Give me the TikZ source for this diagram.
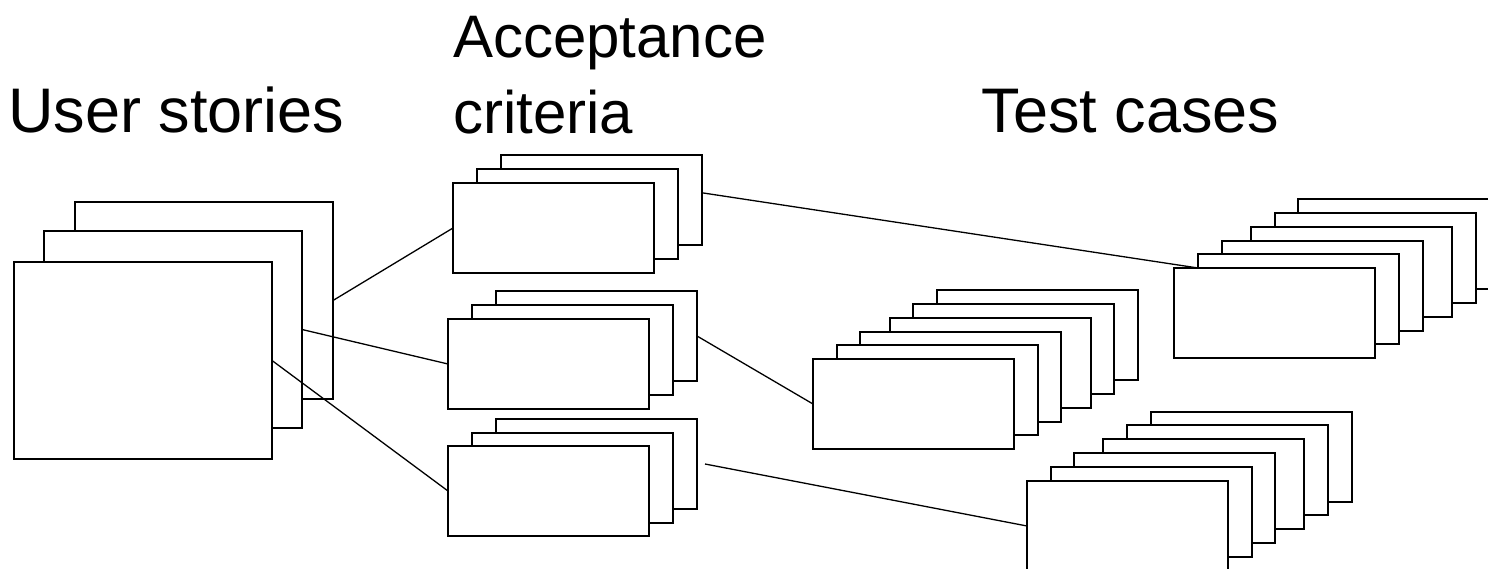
\documentclass[tikz,border=0pt]{standalone}
\usepackage{fontspec}
\setmainfont{Liberation Sans}
\usetikzlibrary{calc}
\begin{document}
\begin{tikzpicture}[x=1pt,y=-1pt,
  card/.style={draw, fill=white, line width=1.6pt, inner sep=0pt, outer sep=0pt, anchor=north west},
  bigcard/.style={card, minimum width=258pt, minimum height=197pt},
  smallcard/.style={card, minimum width=201pt, minimum height=90pt},
  link/.style={line width=1.3pt},
  title/.style={inner sep=0pt, anchor=base west, font=\fontsize{63}{76}\selectfont},
  subtitle/.style={title, font=\fontsize{60}{76}\selectfont}]
\useasboundingbox (0,0) rectangle (1488,569);
\clip (0,0) rectangle (1488,569);

% column headings
\node[title] (hus) at (8,133) {User stories};
\node[subtitle] (hac) at (453,58) {\begin{tabular}[t]{@{}l@{}}Acceptance\\criteria\end{tabular}};
\node[title] (htc) at (981.5,133) {Test cases};

% user stories stack (back to front)
\node[bigcard] (us3) at (75,202) {};
\node[bigcard] (us2) at (44,231) {};
\node[bigcard] (us1) at (14,262) {};

% acceptance criteria stacks
\node[smallcard] (ac1c) at (501,155) {};
\node[smallcard] (ac1b) at (477,169) {};
\node[smallcard] (ac1a) at (453,183) {};

\node[smallcard] (ac2c) at (496,291) {};
\node[smallcard] (ac2b) at (472,305) {};
\node[smallcard] (ac2a) at (448,319) {};

\node[smallcard] (ac3c) at (496,419) {};
\node[smallcard] (ac3b) at (472,433) {};
\node[smallcard] (ac3a) at (448,446) {};

% test case stacks
\node[smallcard] (tca6) at (937,290) {};
\node[smallcard] (tca5) at (913,304) {};
\node[smallcard] (tca4) at (890,318) {};
\node[smallcard] (tca3) at (860,332) {};
\node[smallcard] (tca2) at (837,345) {};
\node[smallcard] (tca1) at (813,359) {};

\node[smallcard] (tcb6) at (1151,412) {};
\node[smallcard] (tcb5) at (1127,425) {};
\node[smallcard] (tcb4) at (1103,439) {};
\node[smallcard] (tcb3) at (1074,453) {};
\node[smallcard] (tcb2) at (1051,467) {};
\node[smallcard] (tcb1) at (1027,481) {};

\node[smallcard] (tcc6) at (1298,199) {};
\node[smallcard] (tcc5) at (1275,213) {};
\node[smallcard] (tcc4) at (1251,227) {};
\node[smallcard] (tcc3) at (1222,241) {};
\node[smallcard] (tcc2) at (1198,254) {};
\node[smallcard] (tcc1) at (1174,268) {};

% connectors
\draw[link] (us3.east) -- (ac1a.west);
\draw[link] (us2.east) -- (ac2a.west);
\draw[link] (us1.east) -- (ac3a.west);
\draw[link] ($(ac1c.north east)!0.42!(ac1c.south east)$) -- (tcc2.west |- tcc1.north);
\draw[link] (ac2c.east) -- (tca1.west);
\coordinate (ac3out) at ([xshift=8pt]ac3c.east);
\draw[link] (ac3out) -- (tcb1.west);
\end{tikzpicture}
\end{document}
